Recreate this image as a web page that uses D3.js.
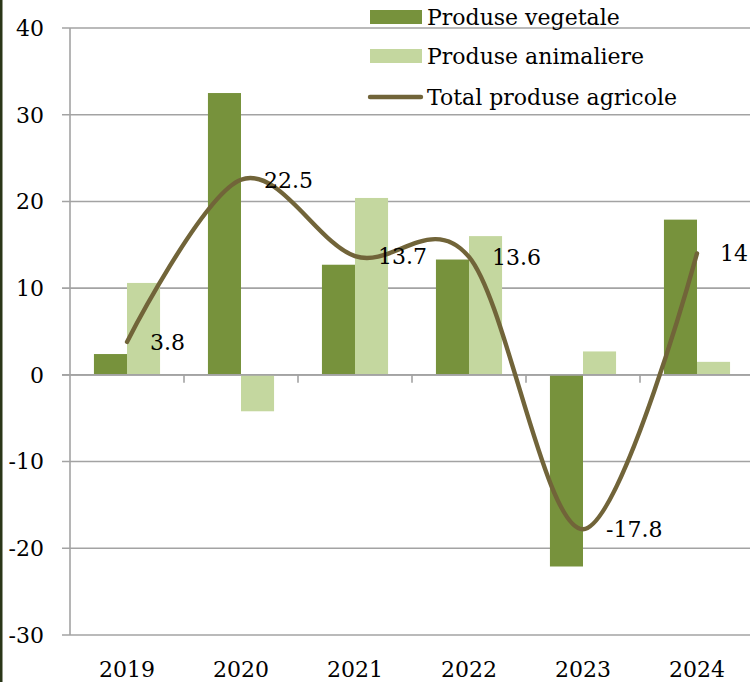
<!DOCTYPE html>
<html>
<head>
<meta charset="utf-8">
<script src="https://cdn.jsdelivr.net/npm/d3@7"></script>
<style>
  html, body { margin: 0; padding: 0; background: #fff; }
  svg { display: block; }
  text { font-family: "DejaVu Serif", serif; fill: #000; }
</style>
</head>
<body>
<svg id="chart" width="750" height="682"></svg>
<script>
const categories = ["2019", "2020", "2021", "2022", "2023", "2024"];
const seriesNames = ["Produse vegetale", "Produse animaliere", "Total produse agricole"];
const vegetale = [2.4, 32.5, 12.7, 13.3, -22.1, 17.9];
const animaliere = [10.6, -4.2, 20.4, 16.0, 2.7, 1.5];
const total = [3.8, 22.5, 13.7, 13.6, -17.8, 14];
const totalLabels = ["3.8", "22.5", "13.7", "13.6", "-17.8", "14"];
const yTicks = [-30, -20, -10, 0, 10, 20, 30, 40];

const colVeg = "#77923c";
const colAnim = "#c4d79f";
const colLine = "#716439";
const colGrid = "#a3a3a3";
const fontSize = 22;

const svg = d3.select("#chart");

// left border
svg.append("rect").attr("x", 0).attr("y", 0).attr("width", 2.5).attr("height", 682).attr("fill", "#2a3618");

const y = d3.scaleLinear().domain([-30, 40]).range([635, 28]);
const x = d3.scaleBand().domain(categories).range([70, 754]).paddingInner(0.42).paddingOuter(0.21);
const xs = d3.scaleBand().domain(["veg", "anim"]).range([0, x.bandwidth()]);
const center = c => x(c) + x.bandwidth() / 2;

// gridlines
svg.append("g").selectAll("line").data(yTicks).join("line")
  .attr("x1", 62).attr("x2", 754)
  .attr("y1", d => y(d)).attr("y2", d => y(d))
  .attr("stroke", colGrid).attr("stroke-width", 1.6);

// y axis line
svg.append("line").attr("x1", 70).attr("x2", 70).attr("y1", y(40)).attr("y2", y(-30))
  .attr("stroke", colGrid).attr("stroke-width", 1.6);

// y labels
svg.append("g").selectAll("text").data(yTicks).join("text")
  .attr("x", 44).attr("y", d => y(d)).attr("dy", "0.36em")
  .attr("text-anchor", "end").attr("font-size", fontSize)
  .text(d => d);

// bars
const bars = svg.append("g");
bars.selectAll("rect.veg").data(categories).join("rect").attr("class", "veg")
  .attr("x", (c) => x(c) + xs("veg"))
  .attr("width", xs.bandwidth())
  .attr("y", (c, i) => y(Math.max(0, vegetale[i])))
  .attr("height", (c, i) => Math.abs(y(vegetale[i]) - y(0)))
  .attr("fill", colVeg);
bars.selectAll("rect.anim").data(categories).join("rect").attr("class", "anim")
  .attr("x", (c) => x(c) + xs("anim"))
  .attr("width", xs.bandwidth())
  .attr("y", (c, i) => y(Math.max(0, animaliere[i])))
  .attr("height", (c, i) => Math.abs(y(animaliere[i]) - y(0)))
  .attr("fill", colAnim);

// zero line on top of bars
svg.append("line").attr("x1", 62).attr("x2", 754).attr("y1", y(0)).attr("y2", y(0))
  .attr("stroke", colGrid).attr("stroke-width", 1.6);

// category boundary ticks on the zero line
const boundaries = categories.slice(1).map(c => x(c) - x.step() * x.paddingInner() / 2);
svg.append("g").selectAll("line").data(boundaries).join("line")
  .attr("x1", d => d).attr("x2", d => d)
  .attr("y1", y(0)).attr("y2", y(0) + 8)
  .attr("stroke", colGrid).attr("stroke-width", 1.6);

// x labels
svg.append("g").selectAll("text").data(categories).join("text")
  .attr("x", c => center(c)).attr("y", 677)
  .attr("text-anchor", "middle").attr("font-size", fontSize)
  .text(c => c);

// smooth total line
const line = d3.line()
  .x((d, i) => center(categories[i]))
  .y(d => y(d))
  .curve(d3.curveCardinal.tension(0));
svg.append("path").datum(total)
  .attr("d", line).attr("fill", "none")
  .attr("stroke", colLine).attr("stroke-width", 4.4).attr("stroke-linecap", "round");

// data labels
svg.append("g").selectAll("text").data(total).join("text")
  .attr("x", (d, i) => center(categories[i]) + 23)
  .attr("y", d => y(d)).attr("dy", "0.36em")
  .attr("font-size", fontSize)
  .text((d, i) => totalLabels[i]);

// legend
const lg = svg.append("g");
const rows = [17, 56, 97];
lg.append("rect").attr("x", 370).attr("y", rows[0] - 7).attr("width", 52).attr("height", 14).attr("fill", colVeg);
lg.append("rect").attr("x", 370).attr("y", rows[1] - 7).attr("width", 52).attr("height", 14).attr("fill", colAnim);
lg.append("line").attr("x1", 370).attr("x2", 421).attr("y1", rows[2]).attr("y2", rows[2])
  .attr("stroke", colLine).attr("stroke-width", 4.4).attr("stroke-linecap", "round");
lg.selectAll("text").data(seriesNames).join("text")
  .attr("x", 427).attr("y", (d, i) => rows[i]).attr("dy", "0.36em")
  .attr("font-size", fontSize)
  .text(d => d);
</script>
</body>
</html>
